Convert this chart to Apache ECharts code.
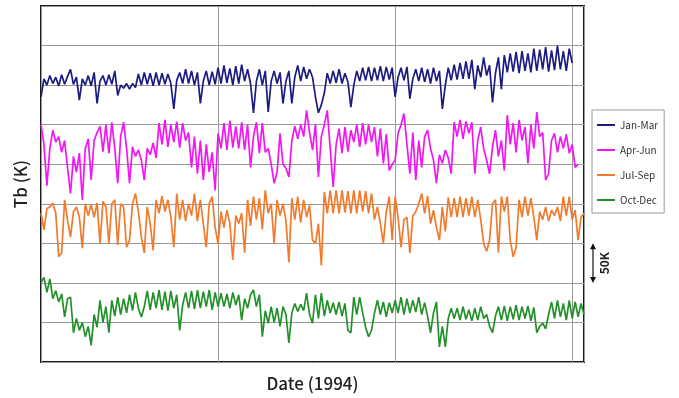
<!DOCTYPE html>
<html>
<head>
<meta charset="utf-8">
<script src="https://cdn.jsdelivr.net/npm/echarts@6/dist/echarts.min.js"></script>
<style>html,body{margin:0;padding:0;background:#fff;}#c{width:679px;height:398px;}</style>
</head>
<body>
<div id="c"></div>
<script>
// Day of quarter, sampled every half day
const stepDays = 0.5;
const seriesNames = ['Jan-Mar', 'Apr-Jun', 'Jul-Sep', 'Oct-Dec'];
// Tb values as plotted (K, each quarter stacked with its display offset)
const janMar = [
 335,358,350,362,352,360,349,363,351,361,
 370,351,360,331,358,350,362,349,366,327,
 355,362,350,363,351,368,337,350,346,352,
 345,352,347,364,350,366,351,365,349,366,
 350,365,351,364,352,320,356,366,352,370,
 352,368,350,366,327,355,368,350,367,351,
 372,352,375,353,371,350,374,352,376,355,
 370,352,315,355,370,350,368,316,355,368,
 352,366,327,355,368,327,360,375,355,373,
 358,370,360,335,315,325,340,365,352,368,
 353,370,352,365,354,322,350,368,355,372,
 356,373,355,372,356,374,355,373,357,372,
 335,360,372,356,373,333,358,370,355,372,
 354,370,352,372,355,368,320,350,372,356,
 376,357,378,358,380,358,382,345,375,360,
 385,362,375,328,365,385,345,388,366,390,
 367,392,365,393,368,390,366,396,368,395,
 370,398,367,394,369,400,370,393,368,396,
 378];
const aprJun = [
 300,275,223,270,293,278,285,265,280,245,
 213,260,240,264,205,270,282,230,280,290,
 298,266,300,264,303,270,226,285,303,270,
 226,272,260,268,255,230,270,262,277,258,
 302,275,306,272,300,278,304,271,302,280,
 290,246,285,238,280,230,275,240,265,217,
 289,270,302,268,305,271,298,270,303,268,
 300,246,285,303,264,302,265,270,250,226,
 240,289,250,245,234,280,298,282,300,285,
 318,290,268,300,234,285,300,318,270,221,
 275,295,264,297,266,293,278,300,272,302,
 275,300,278,297,260,295,251,288,242,250,
 255,289,300,314,275,238,290,230,280,246,
 285,293,270,255,226,262,251,268,258,238,
 303,285,306,282,304,289,303,238,280,297,
 270,255,238,272,293,260,280,242,312,275,
 302,265,306,280,297,251,300,270,316,285,
 290,230,238,280,289,265,285,270,288,264,
 275,246,250];
const julSep = [
 188,167,194,196,201,188,133,138,205,179,
 158,190,196,183,144,200,185,199,183,201,
 150,203,196,150,200,205,148,200,196,145,
 154,200,213,190,158,138,196,175,141,205,
 188,210,190,205,183,145,213,180,205,178,
 200,185,213,178,205,175,145,200,209,170,
 150,190,170,192,175,129,185,175,188,138,
 205,172,209,180,207,168,217,188,200,150,
 205,185,200,179,126,207,180,209,176,205,
 183,198,154,150,175,122,215,188,217,188,
 217,188,217,189,216,188,217,188,217,190,
 216,188,213,180,196,175,150,190,209,154,
 209,183,145,180,183,138,185,190,200,213,
 188,210,175,192,170,154,196,165,208,183,
 207,183,209,183,207,185,209,183,205,180,
 150,140,154,200,205,138,209,190,209,154,
 133,145,205,183,209,185,207,183,154,190,
 180,196,178,192,185,196,178,209,185,209,
 180,192,154,183,188];
const octDec = [
 100,107,88,105,80,90,76,86,57,80,
 82,37,55,40,50,32,45,21,60,44,
 78,50,70,37,78,58,82,60,80,62,
 85,65,88,68,57,70,90,66,88,68,
 91,66,89,65,90,68,85,40,72,88,
 68,90,67,91,68,89,70,91,66,88,
 70,87,70,86,68,88,72,85,53,80,
 68,85,91,70,85,32,65,49,70,50,
 68,45,70,60,24,62,74,64,73,65,
 87,60,49,85,55,87,58,78,62,75,
 60,76,58,74,40,37,82,60,82,62,
 44,32,40,62,78,60,76,57,75,62,
 78,62,82,60,80,62,78,63,82,60,
 75,58,37,62,76,19,45,19,55,68,
 55,68,53,70,54,66,52,68,53,70,
 55,60,45,37,58,70,53,71,52,70,
 54,72,53,70,55,71,52,69,37,45,
 49,42,60,76,55,78,57,74,53,78,
 55,76,57,74,60];
const seriesValues = [janMar, aprJun, julSep, octDec];
const seriesColors = ['#1c1c80', '#f216f2', '#f27a2a', '#23902a'];
const xMax = 92, xInterval = 30;
const yMax = 450, yInterval = 50;
const scaleBarFrom = 100, scaleBarTo = 150; // 50 K scale bar

const chart = echarts.init(document.getElementById('c'), null, {renderer: 'canvas'});
const font = '"Noto Sans CJK JP", "Noto Sans", sans-serif';

const option = {
  animation: false,
  backgroundColor: '#fff',
  grid: {left: 41, right: 95, top: 6, bottom: 36, show: true, borderColor: '#1a1a1a', borderWidth: 2},
  legend: {
    orient: 'vertical', left: 592, top: 110,
    data: seriesNames,
    icon: 'rect', itemWidth: 18, itemHeight: 2, itemGap: 15,
    padding: [10, 6, 8, 5],
    borderColor: '#999', borderWidth: 1,
    textStyle: {fontSize: 10, color: '#333', fontFamily: font}
  },
  xAxis: {
    type: 'value', min: 0, max: xMax, interval: xInterval,
    name: 'Date (1994)', nameLocation: 'middle', nameGap: 13,
    nameTextStyle: {fontSize: 17, fontWeight: 500, color: '#222', fontFamily: font},
    axisLine: {show: false}, axisTick: {show: false}, axisLabel: {show: false},
    splitLine: {show: true, lineStyle: {color: '#999', width: 1}}
  },
  yAxis: {
    type: 'value', min: 0, max: yMax, interval: yInterval,
    name: 'Tb (K)', nameLocation: 'middle', nameGap: 12,
    nameTextStyle: {fontSize: 17, fontWeight: 500, color: '#222', fontFamily: font},
    axisLine: {show: false}, axisTick: {show: false}, axisLabel: {show: false},
    splitLine: {show: true, lineStyle: {color: '#999', width: 1}}
  },
  series: seriesNames.map((n, k) => ({
    name: n, type: 'line', showSymbol: false, symbol: 'none',
    data: seriesValues[k].map((v, i) => [i * stepDays, v]),
    lineStyle: {color: seriesColors[k], width: 1.7},
    itemStyle: {color: seriesColors[k]}
  }))
};
chart.setOption(option);

// 50K scale bar to the right of the plot
const yA = chart.convertToPixel({gridIndex: 0}, [0, scaleBarFrom])[1];
const yB = chart.convertToPixel({gridIndex: 0}, [0, scaleBarTo])[1];
const ax = 593;
chart.setOption({
  graphic: [
    {type: 'line', shape: {x1: ax, y1: yB + 3, x2: ax, y2: yA - 3}, style: {stroke: '#111', lineWidth: 1.2}},
    {type: 'polygon', shape: {points: [[ax, yB], [ax - 3, yB + 6], [ax + 3, yB + 6]]}, style: {fill: '#111'}},
    {type: 'polygon', shape: {points: [[ax, yA], [ax - 3, yA - 6], [ax + 3, yA - 6]]}, style: {fill: '#111'}},
    {type: 'text', x: 604, y: (yA + yB) / 2, rotation: Math.PI / 2,
     style: {text: '50K', fontSize: 12, fontWeight: 'bold', fill: '#222', fontFamily: font, align: 'center', verticalAlign: 'middle'}}
  ]
});
</script>
</body>
</html>
